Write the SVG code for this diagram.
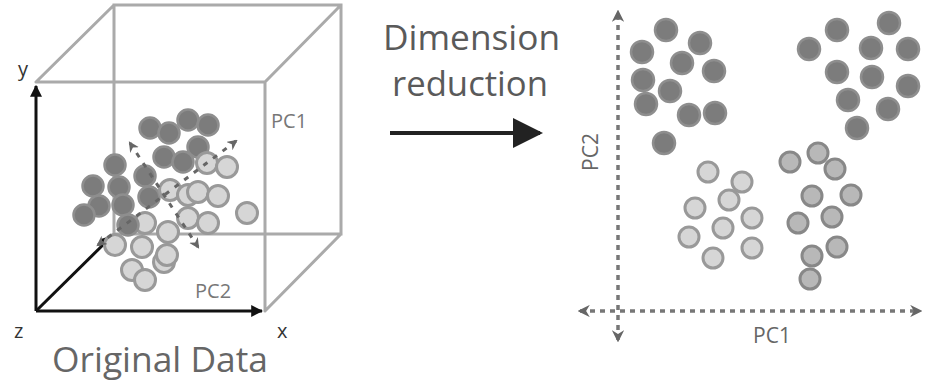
<svg xmlns="http://www.w3.org/2000/svg" width="926" height="382" viewBox="0 0 926 382">
<defs>
<style>
.cube{fill:none;stroke:#aaa;stroke-width:3;stroke-linecap:round}
.ax{fill:none;stroke:#111;stroke-width:3}
.d{fill:#7c7c7c;stroke:#8e8e8e;stroke-width:2.5}
.l{fill:#d6d6d6;stroke:#999;stroke-width:3}
.m{fill:#b8b8b8;stroke:#888;stroke-width:3}
.dash{fill:none;stroke:#666;stroke-width:3;stroke-dasharray:5 7}
.dot{fill:none;stroke:#777;stroke-width:3.5;stroke-dasharray:5 5}
.t{font-family:"Open Sans","Noto Sans",sans-serif;fill:#666}
</style>
<marker id="ah" viewBox="0 0 10 10" refX="9" refY="5" markerWidth="4" markerHeight="4" orient="auto-start-reverse"><path d="M0,0L10,5L0,10z" fill="#111"/></marker>
<marker id="gh" viewBox="0 0 10 10" refX="8" refY="5" markerWidth="3.5" markerHeight="3.5" orient="auto-start-reverse"><path d="M0,0L10,5L0,10L3,5z" fill="#666"/></marker>
<marker id="big" viewBox="0 0 10 10" refX="9" refY="5" markerWidth="7.5" markerHeight="7.5" orient="auto"><path d="M0,0L10,5L0,10z" fill="#222"/></marker>
</defs>

<g id="cube">
<path class="cube" d="M114,5H341V234H114Z M36,82H265V311 M36,82L114,5 M265,82L341,5 M265,311L341,234"/>
</g>

<g id="axes3d">
<line class="ax" x1="36" y1="311" x2="36" y2="86" marker-end="url(#ah)"/>
<line class="ax" x1="36" y1="311" x2="262" y2="311" marker-end="url(#ah)"/>
<line class="ax" x1="36" y1="311" x2="112" y2="236" marker-end="url(#ah)"/>
<text class="t" x="18" y="76" font-size="20" style="fill:#333">y</text>
<text class="t" x="14" y="338" font-size="20" style="fill:#333">z</text>
<text class="t" x="277" y="338" font-size="20" style="fill:#333">x</text>
<text class="t" x="271" y="128" font-size="20" style="fill:#777">PC1</text>
<text class="t" x="195" y="298" font-size="20" style="fill:#777">PC2</text>
</g>

<g id="cluster3d">
<circle class="d" cx="188" cy="120" r="10.5"/>
<circle class="d" cx="208" cy="125" r="10.5"/>
<circle class="d" cx="150" cy="128" r="10.5"/>
<circle class="d" cx="169" cy="133" r="10.5"/>
<circle class="d" cx="198" cy="147" r="10.5"/>
<circle class="d" cx="164" cy="157" r="10.5"/>
<circle class="d" cx="183" cy="162" r="10.5"/>
<circle class="d" cx="115" cy="165" r="10.5"/>
<circle class="d" cx="145" cy="176" r="10.5"/>
<circle class="d" cx="93" cy="186" r="10.5"/>
<circle class="d" cx="119" cy="187" r="10.5"/>
<circle class="d" cx="149" cy="197" r="10.5"/>
<circle class="d" cx="99" cy="206" r="10.5"/>
<circle class="d" cx="123" cy="205" r="10.5"/>
<circle class="d" cx="84" cy="215" r="10.5"/>
<circle class="l" cx="207" cy="163" r="10.5"/>
<circle class="l" cx="227" cy="167" r="10.5"/>
<circle class="l" cx="170" cy="190" r="10.5"/>
<circle class="l" cx="188" cy="195" r="10.5"/>
<circle class="l" cx="198" cy="192" r="10.5"/>
<circle class="l" cx="218" cy="196" r="10.5"/>
<circle class="l" cx="247" cy="213" r="10.5"/>
<circle class="l" cx="188" cy="218" r="10.5"/>
<circle class="l" cx="208" cy="223" r="10.5"/>
<circle class="l" cx="145" cy="223" r="10.5"/>
<circle class="d" cx="128" cy="225" r="10.5"/>
<circle class="l" cx="168" cy="232" r="10.5"/>
<circle class="l" cx="115" cy="245" r="10.5"/>
<circle class="l" cx="142" cy="247" r="10.5"/>
<circle class="l" cx="164" cy="262" r="10.5"/>
<circle class="l" cx="167" cy="255" r="10.5"/>
<circle class="l" cx="132" cy="270" r="10.5"/>
<circle class="l" cx="145" cy="280" r="10.5"/>
</g>

<g id="pcs3d">
<line class="dash" x1="98" y1="245" x2="236" y2="141" marker-start="url(#gh)" marker-end="url(#gh)"/>
<line class="dash" x1="130" y1="143" x2="198" y2="247" marker-start="url(#gh)" marker-end="url(#gh)"/>
</g>

<g id="label-original">
<text class="t" x="52" y="372" font-size="34" textLength="216" lengthAdjust="spacingAndGlyphs">Original Data</text>
</g>

<g id="reduction">
<text class="t" x="383" y="50" font-size="34" textLength="177" lengthAdjust="spacingAndGlyphs" style="fill:#5a5a5a">Dimension</text>
<text class="t" x="392" y="96" font-size="34" textLength="156" lengthAdjust="spacingAndGlyphs" style="fill:#5a5a5a">reduction</text>
<line x1="390" y1="133" x2="540" y2="133" stroke="#222" stroke-width="4" marker-end="url(#big)"/>
</g>

<g id="axes2d">
<line class="dot" x1="618" y1="340" x2="618" y2="12" marker-start="url(#gh)" marker-end="url(#gh)"/>
<line class="dot" x1="580" y1="311" x2="920" y2="311" marker-start="url(#gh)" marker-end="url(#gh)"/>
<text class="t" x="772" y="343" font-size="21" text-anchor="middle" style="fill:#666">PC1</text>
<text class="t" transform="translate(598,152) rotate(-90)" x="0" y="0" font-size="21" text-anchor="middle" style="fill:#666">PC2</text>
</g>

<g id="cluster-a">
<circle class="d" cx="666" cy="30" r="11"/>
<circle class="d" cx="700" cy="43" r="11"/>
<circle class="d" cx="642" cy="52" r="11"/>
<circle class="d" cx="682" cy="63" r="11"/>
<circle class="d" cx="714" cy="71" r="11"/>
<circle class="d" cx="643" cy="80" r="11"/>
<circle class="d" cx="670" cy="91" r="11"/>
<circle class="d" cx="646" cy="104" r="11"/>
<circle class="d" cx="689" cy="115" r="11"/>
<circle class="d" cx="715" cy="113" r="11"/>
<circle class="d" cx="664" cy="143" r="11"/>
</g>

<g id="cluster-b">
<circle class="d" cx="837" cy="30" r="11"/>
<circle class="d" cx="889" cy="23" r="11"/>
<circle class="d" cx="809" cy="49" r="11"/>
<circle class="d" cx="871" cy="48" r="11"/>
<circle class="d" cx="908" cy="49" r="11"/>
<circle class="d" cx="837" cy="72" r="11"/>
<circle class="d" cx="872" cy="77" r="11"/>
<circle class="d" cx="908" cy="86" r="11"/>
<circle class="d" cx="848" cy="100" r="11"/>
<circle class="d" cx="888" cy="109" r="11"/>
<circle class="d" cx="857" cy="128" r="11"/>
</g>

<g id="cluster-c">
<circle class="l" cx="708" cy="172" r="10"/>
<circle class="l" cx="742" cy="182" r="10"/>
<circle class="l" cx="729" cy="200" r="10"/>
<circle class="l" cx="695" cy="208" r="10"/>
<circle class="l" cx="752" cy="218" r="10"/>
<circle class="l" cx="723" cy="228" r="10"/>
<circle class="l" cx="689" cy="237" r="10"/>
<circle class="l" cx="752" cy="248" r="10"/>
<circle class="l" cx="713" cy="258" r="10"/>
</g>

<g id="cluster-d">
<circle class="m" cx="790" cy="162" r="10"/>
<circle class="m" cx="818" cy="153" r="10"/>
<circle class="m" cx="835" cy="169" r="10"/>
<circle class="m" cx="812" cy="196" r="10"/>
<circle class="m" cx="851" cy="195" r="10"/>
<circle class="m" cx="798" cy="223" r="10"/>
<circle class="m" cx="832" cy="217" r="10"/>
<circle class="m" cx="837" cy="247" r="10"/>
<circle class="m" cx="812" cy="256" r="10"/>
<circle class="m" cx="810" cy="279" r="10"/>
</g>
</svg>
